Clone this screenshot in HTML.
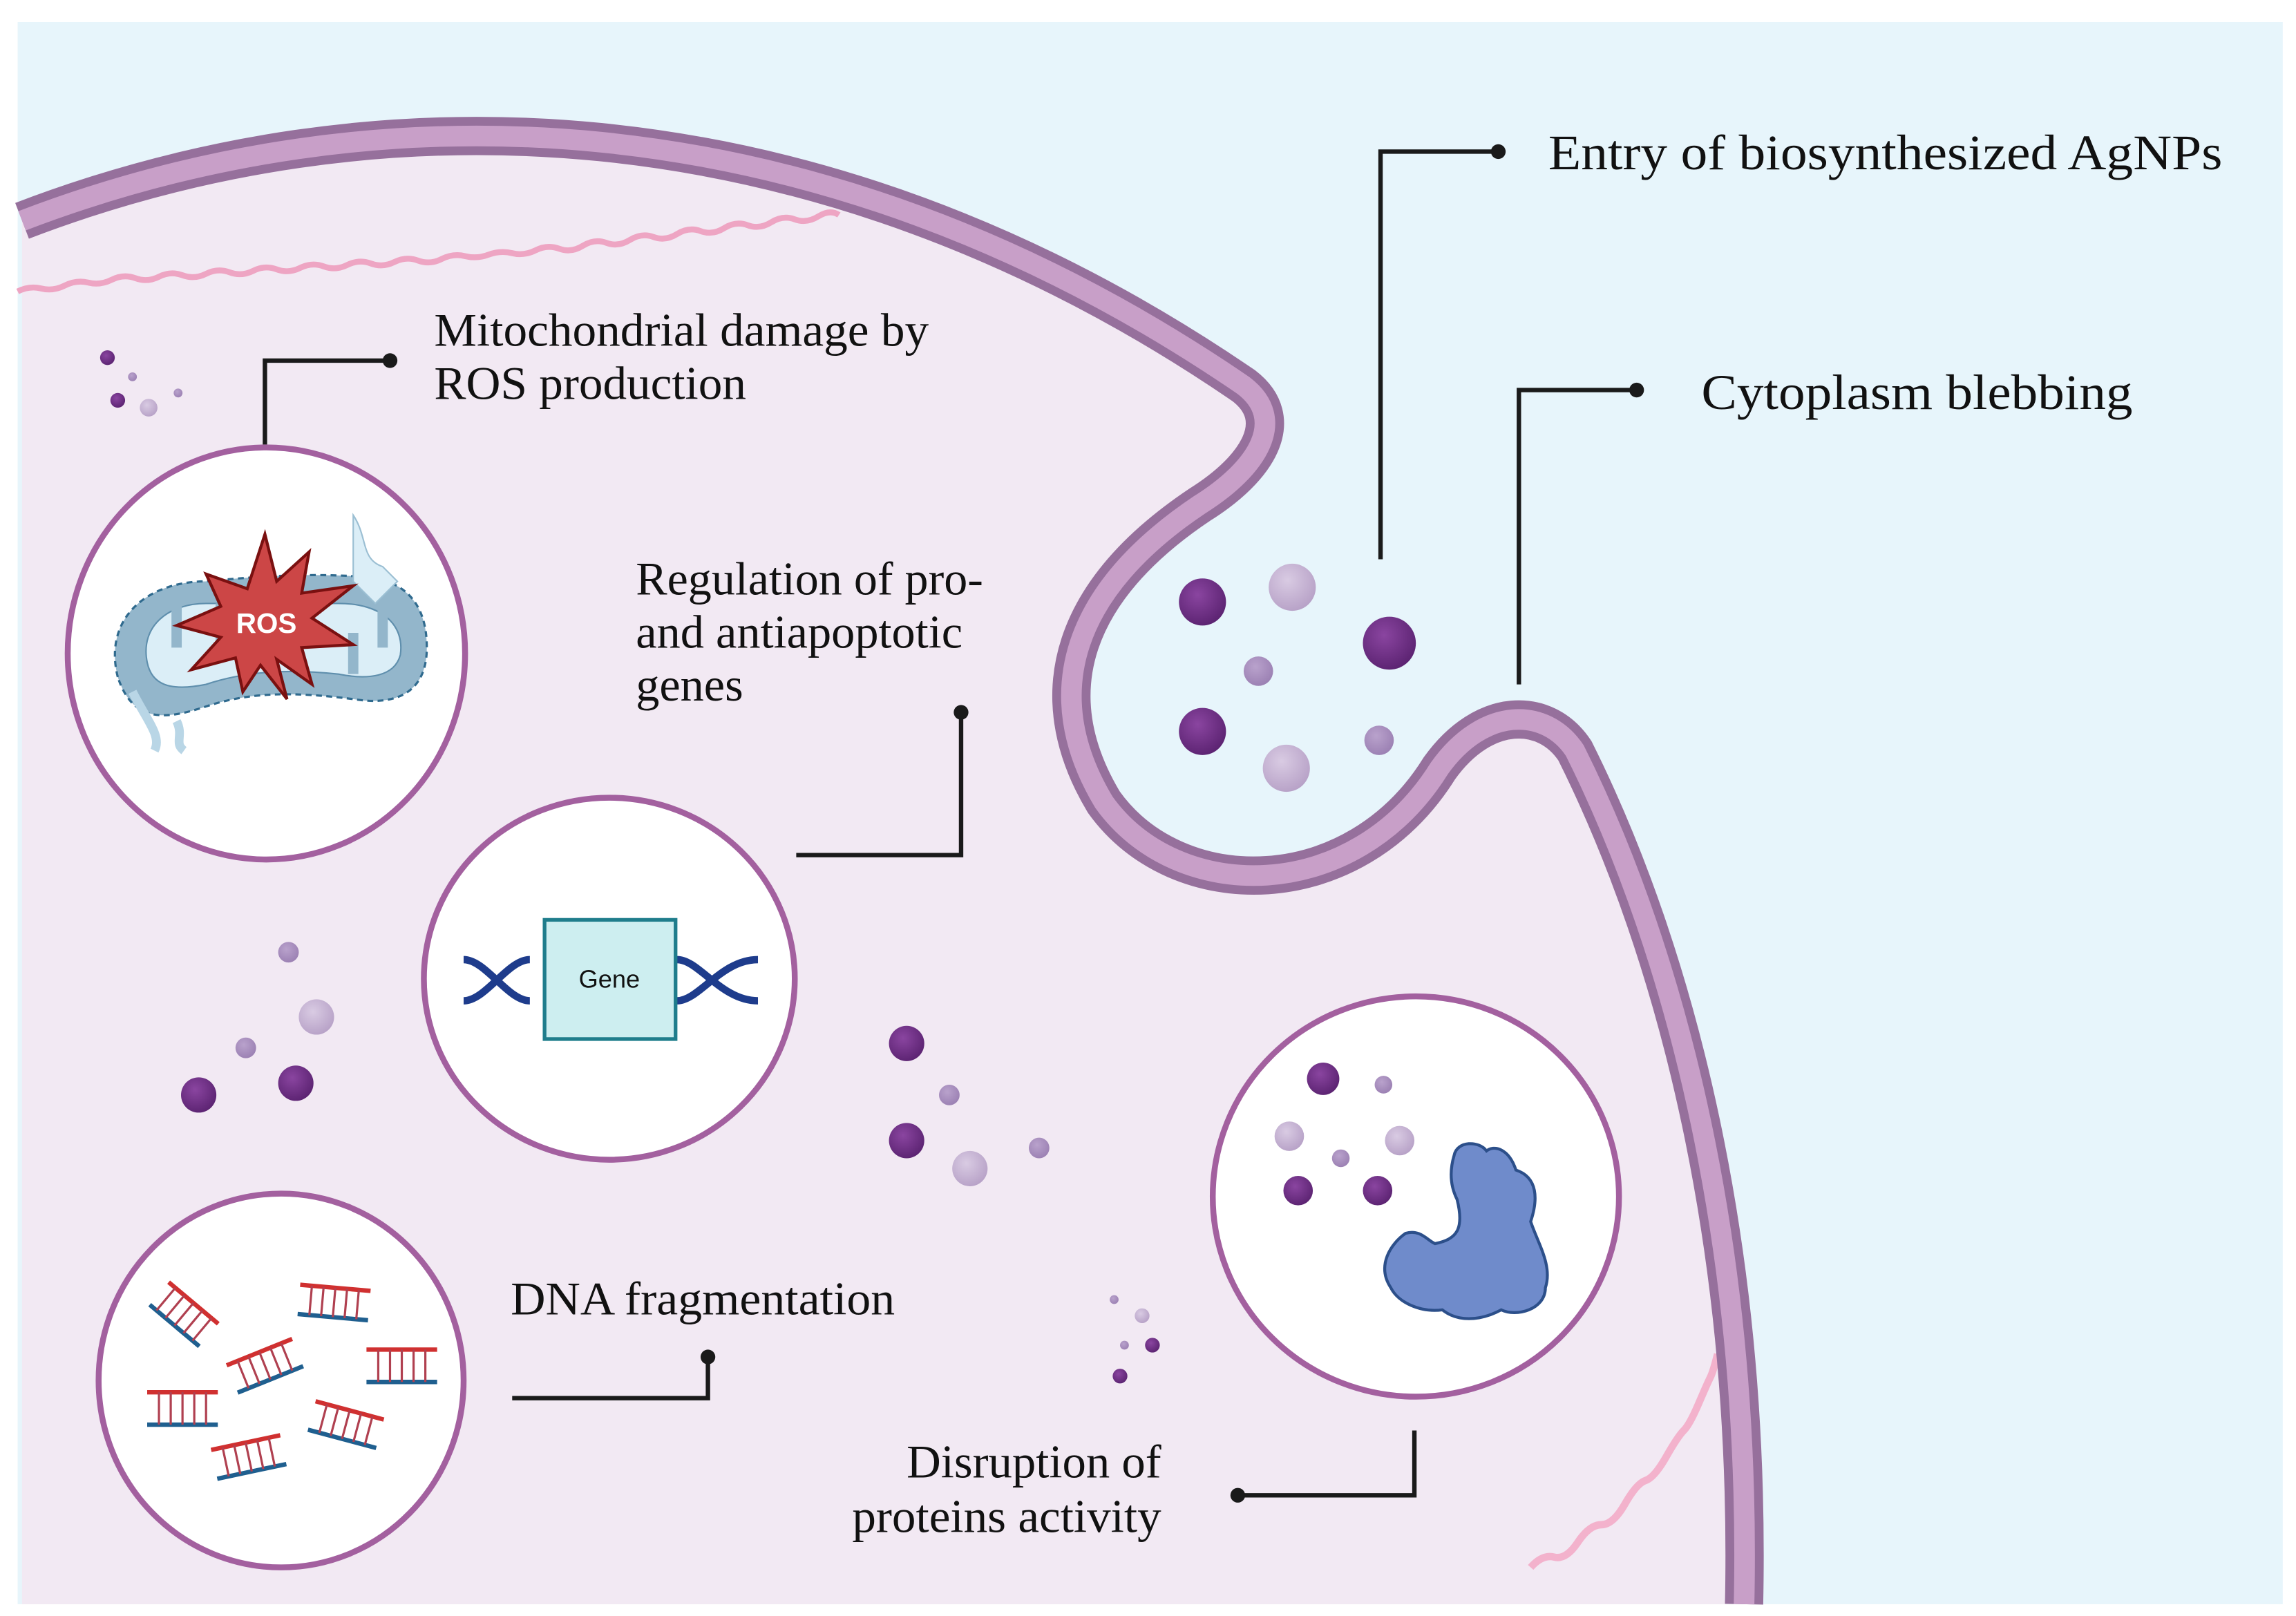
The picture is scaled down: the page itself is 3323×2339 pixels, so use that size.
<!DOCTYPE html>
<html><head><meta charset="utf-8">
<style>
html,body{margin:0;padding:0;background:#fff;}
svg{display:block;}
text{font-family:"Liberation Serif",serif;fill:#111;}
</style></head>
<body>
<svg width="3323" height="2339" viewBox="0 0 1560 1098" xmlns="http://www.w3.org/2000/svg">
<defs>
<radialGradient id="dk" cx="40%" cy="35%" r="70%"><stop offset="0" stop-color="#8a45a0"/><stop offset="1" stop-color="#5a2270"/></radialGradient>
<radialGradient id="lt" cx="40%" cy="35%" r="70%"><stop offset="0" stop-color="#d9cbe3"/><stop offset="1" stop-color="#b6a0c6"/></radialGradient>
<radialGradient id="md" cx="40%" cy="35%" r="70%"><stop offset="0" stop-color="#b9a2cc"/><stop offset="1" stop-color="#9a7fb2"/></radialGradient>
</defs>
<rect width="1560" height="1098" fill="#fff"/>
<rect x="12" y="15" width="1539" height="1075" fill="#e7f5fb"/>
<path d="M15,150 C250,60 550,60 845,262 C875,285 855,318 815,343 C730,400 705,470 750,545 C800,615 920,615 978,522 C1008,480 1050,480 1070,510 C1140,650 1190,850 1185,1090 L15,1090 Z" fill="#f2e9f3"/>
<path d="M12,198 Q20,194 28,196 T44,194 T60,192 T76,190 T92,189 T108,188 T124,187 T140,186 T156,185 T172,184 T188,183 T204,182 T220,181 T236,180 T252,179 T268,178 T284,177 T300,176 T316,174 T332,173 T348,172 T364,170 T380,169 T396,167 T412,165 T428,163 T444,161 T460,159 T476,157 T492,155 T508,153 T524,151 T540,149 T556,147 T570,146" fill="none" stroke="#eea5c3" stroke-width="4"/>
<path d="M1040,1065 Q1048,1056 1056,1058 T1072,1048 T1088,1036 T1104,1022 T1118,1006 T1132,990 T1144,972 T1154,954 T1162,936 T1167,920" fill="none" stroke="#f3b2cc" stroke-width="5"/>
<path d="M15,150 C250,60 550,60 845,262 C875,285 855,318 815,343 C730,400 705,470 750,545 C800,615 920,615 978,522 C1008,480 1050,480 1070,510 C1140,650 1190,850 1185,1090" fill="none" stroke="#96709c" stroke-width="26"/>
<path d="M15,150 C250,60 550,60 845,262 C875,285 855,318 815,343 C730,400 705,470 750,545 C800,615 920,615 978,522 C1008,480 1050,480 1070,510 C1140,650 1190,850 1185,1090" fill="none" stroke="#c89fc8" stroke-width="14"/>
<g>
<circle cx="817" cy="409" r="16" fill="url(#dk)"/><circle cx="878" cy="399" r="16" fill="url(#lt)"/><circle cx="944" cy="437" r="18" fill="url(#dk)"/>
<circle cx="855" cy="456" r="10" fill="url(#md)"/><circle cx="817" cy="497" r="16" fill="url(#dk)"/><circle cx="874" cy="522" r="16" fill="url(#lt)"/><circle cx="937" cy="503" r="10" fill="url(#md)"/>
<circle cx="73" cy="243" r="5" fill="url(#dk)"/><circle cx="90" cy="256" r="3" fill="url(#md)"/><circle cx="80" cy="272" r="5" fill="url(#dk)"/><circle cx="101" cy="277" r="6" fill="url(#lt)"/><circle cx="121" cy="267" r="3" fill="url(#md)"/>
<circle cx="196" cy="647" r="7" fill="url(#md)"/><circle cx="215" cy="691" r="12" fill="url(#lt)"/><circle cx="167" cy="712" r="7" fill="url(#md)"/><circle cx="135" cy="744" r="12" fill="url(#dk)"/><circle cx="201" cy="736" r="12" fill="url(#dk)"/>
<circle cx="616" cy="709" r="12" fill="url(#dk)"/><circle cx="645" cy="744" r="7" fill="url(#md)"/><circle cx="616" cy="775" r="12" fill="url(#dk)"/><circle cx="659" cy="794" r="12" fill="url(#lt)"/><circle cx="706" cy="780" r="7" fill="url(#md)"/>
<circle cx="757" cy="883" r="3" fill="url(#md)"/><circle cx="776" cy="894" r="5" fill="url(#lt)"/><circle cx="764" cy="914" r="3" fill="url(#md)"/><circle cx="783" cy="914" r="5" fill="url(#dk)"/><circle cx="761" cy="935" r="5" fill="url(#dk)"/>
</g>
<ellipse cx="181" cy="444" rx="135" ry="140" fill="#fff" stroke="#a3609f" stroke-width="4"/>
<ellipse cx="414" cy="665" rx="126" ry="123" fill="#fff" stroke="#a3609f" stroke-width="4"/>
<ellipse cx="191" cy="938" rx="124" ry="127" fill="#fff" stroke="#a3609f" stroke-width="4"/>
<ellipse cx="962" cy="813" rx="138" ry="136" fill="#fff" stroke="#a3609f" stroke-width="4"/>
<path d="M80,460 C70,420 100,395 140,395 C190,390 220,390 250,392 C275,395 290,410 290,440 C290,470 270,480 240,475 C200,470 170,470 140,480 C110,490 90,490 80,460 Z" fill="#93b6cb" stroke="#2f6a8e" stroke-width="1.5" stroke-dasharray="4 3"/>
<path d="M100,450 C95,425 115,410 140,410 C170,410 200,410 230,410 C260,410 275,425 272,445 C268,460 250,462 230,458 C200,455 170,455 140,465 C115,470 103,465 100,450 Z" fill="#dbeef7" stroke="#5f8fad" stroke-width="1"/>
<path d="M120,410 L120,440 M150,410 L150,445 M200,450 L200,420 M240,458 L240,430 M260,415 L260,440" stroke="#93b6cb" stroke-width="7"/>
<path d="M240,350 C250,365 245,380 260,385 L270,395 L255,410 L240,395 Z" fill="#dbeef7" stroke="#9bbfd3"/>
<path d="M90,470 C100,490 110,500 105,510 M120,490 C125,500 118,505 125,510" stroke="#b9d6e6" stroke-width="6" fill="none"/>
<polygon points="180,363 188,395 210,375 205,403 240,398 212,420 240,438 205,440 212,465 188,448 195,475 177,452 165,470 160,447 130,455 150,433 120,425 150,412 140,390 168,400" fill="#cc4646" stroke="#7a1010" stroke-width="2"/>
<text x="181" y="430" text-anchor="middle" style="font-family:'Liberation Sans',sans-serif;font-weight:bold;font-size:19px;fill:#fff">ROS</text>
<path d="M315,652 C330,652 345,680 360,680 M315,680 C330,680 345,652 360,652 M460,680 C475,680 490,652 515,652 M460,652 C475,652 490,680 515,680" stroke="#1e3c8c" stroke-width="5" fill="none"/>
<rect x="370" y="625" width="89" height="81" fill="#cdeef0" stroke="#1f7d8c" stroke-width="2.5"/>
<text x="414" y="671" text-anchor="middle" style="font-family:'Liberation Sans',sans-serif;font-size:17px;fill:#111">Gene</text>
<g stroke-width="3">
<g transform="translate(125,893) rotate(40)"><line x1="-22" y1="-10" x2="22" y2="-10" stroke="#d03030"/><line x1="-22" y1="10" x2="22" y2="10" stroke="#1f5f8f"/><path d="M-16,-10v20M-8,-10v20M0,-10v20M8,-10v20M16,-10v20" stroke="#b04050" stroke-width="1.5"/></g>
<g transform="translate(227,885) rotate(5)"><line x1="-24" y1="-10" x2="24" y2="-10" stroke="#d03030"/><line x1="-24" y1="10" x2="24" y2="10" stroke="#1f5f8f"/><path d="M-16,-10v20M-8,-10v20M0,-10v20M8,-10v20M16,-10v20" stroke="#b04050" stroke-width="1.5"/></g>
<g transform="translate(180,928) rotate(-22)"><line x1="-24" y1="-10" x2="24" y2="-10" stroke="#d03030"/><line x1="-24" y1="10" x2="24" y2="10" stroke="#1f5f8f"/><path d="M-16,-10v20M-8,-10v20M0,-10v20M8,-10v20M16,-10v20" stroke="#b04050" stroke-width="1.5"/></g>
<g transform="translate(273,928)"><line x1="-24" y1="-11" x2="24" y2="-11" stroke="#d03030"/><line x1="-24" y1="11" x2="24" y2="11" stroke="#1f5f8f"/><path d="M-16,-11v22M-8,-11v22M0,-11v22M8,-11v22M16,-11v22" stroke="#b04050" stroke-width="1.5"/></g>
<g transform="translate(124,957)"><line x1="-24" y1="-11" x2="24" y2="-11" stroke="#d03030"/><line x1="-24" y1="11" x2="24" y2="11" stroke="#1f5f8f"/><path d="M-16,-11v22M-8,-11v22M0,-11v22M8,-11v22M16,-11v22" stroke="#b04050" stroke-width="1.5"/></g>
<g transform="translate(235,968) rotate(15)"><line x1="-24" y1="-10" x2="24" y2="-10" stroke="#d03030"/><line x1="-24" y1="10" x2="24" y2="10" stroke="#1f5f8f"/><path d="M-16,-10v20M-8,-10v20M0,-10v20M8,-10v20M16,-10v20" stroke="#b04050" stroke-width="1.5"/></g>
<g transform="translate(169,990) rotate(-12)"><line x1="-24" y1="-10" x2="24" y2="-10" stroke="#d03030"/><line x1="-24" y1="10" x2="24" y2="10" stroke="#1f5f8f"/><path d="M-16,-10v20M-8,-10v20M0,-10v20M8,-10v20M16,-10v20" stroke="#b04050" stroke-width="1.5"/></g>
</g>
<circle cx="899" cy="733" r="11" fill="url(#dk)"/><circle cx="940" cy="737" r="6" fill="url(#md)"/><circle cx="876" cy="772" r="10" fill="url(#lt)"/><circle cx="951" cy="775" r="10" fill="url(#lt)"/><circle cx="911" cy="787" r="6" fill="url(#md)"/><circle cx="882" cy="809" r="10" fill="url(#dk)"/><circle cx="936" cy="809" r="10" fill="url(#dk)"/>
<path d="M988,785 C990,775 1005,775 1010,782 C1015,778 1025,780 1030,795 C1045,800 1045,815 1040,830 C1045,845 1055,860 1050,875 C1050,890 1030,895 1020,890 C1005,898 990,898 980,890 C965,892 950,885 945,875 C935,860 945,845 955,838 C965,835 970,843 975,845 C990,842 995,835 990,815 C985,805 985,795 988,785 Z" fill="#6f8bcb" stroke="#2c4f8a" stroke-width="2"/>
<g stroke="#1a1a1a" stroke-width="3" fill="none">
<polyline points="1018,103 938,103 938,380"/>
<polyline points="1112,265 1032,265 1032,465"/>
<polyline points="265,245 180,245 180,302"/>
<polyline points="653,484 653,581 541,581"/>
<polyline points="481,922 481,950 348,950"/>
<polyline points="961,972 961,1016 841,1016"/>
</g>
<g fill="#1a1a1a">
<circle cx="1018" cy="103" r="5"/><circle cx="1112" cy="265" r="5"/><circle cx="265" cy="245" r="5"/><circle cx="653" cy="484" r="5"/><circle cx="481" cy="922" r="5"/><circle cx="841" cy="1016" r="5"/>
</g>
<g style="font-size:34px">
<text x="1052" y="115" textLength="458" lengthAdjust="spacingAndGlyphs">Entry of biosynthesized AgNPs</text>
<text x="1156" y="278" textLength="293" lengthAdjust="spacingAndGlyphs">Cytoplasm blebbing</text>
</g>
<g style="font-size:32px">
<text x="295" y="235" textLength="336" lengthAdjust="spacingAndGlyphs">Mitochondrial damage by</text>
<text x="295" y="271" textLength="212" lengthAdjust="spacingAndGlyphs">ROS production</text>
<text x="432" y="404" textLength="236" lengthAdjust="spacingAndGlyphs">Regulation of pro-</text>
<text x="432" y="440" textLength="222" lengthAdjust="spacingAndGlyphs">and antiapoptotic</text>
<text x="432" y="476" textLength="73" lengthAdjust="spacingAndGlyphs">genes</text>
<text x="347" y="893" textLength="261" lengthAdjust="spacingAndGlyphs">DNA fragmentation</text>
<text x="616" y="1004" textLength="173" lengthAdjust="spacingAndGlyphs">Disruption of</text>
<text x="579" y="1041" textLength="210" lengthAdjust="spacingAndGlyphs">proteins activity</text>
</g>
</svg>
</body></html>
